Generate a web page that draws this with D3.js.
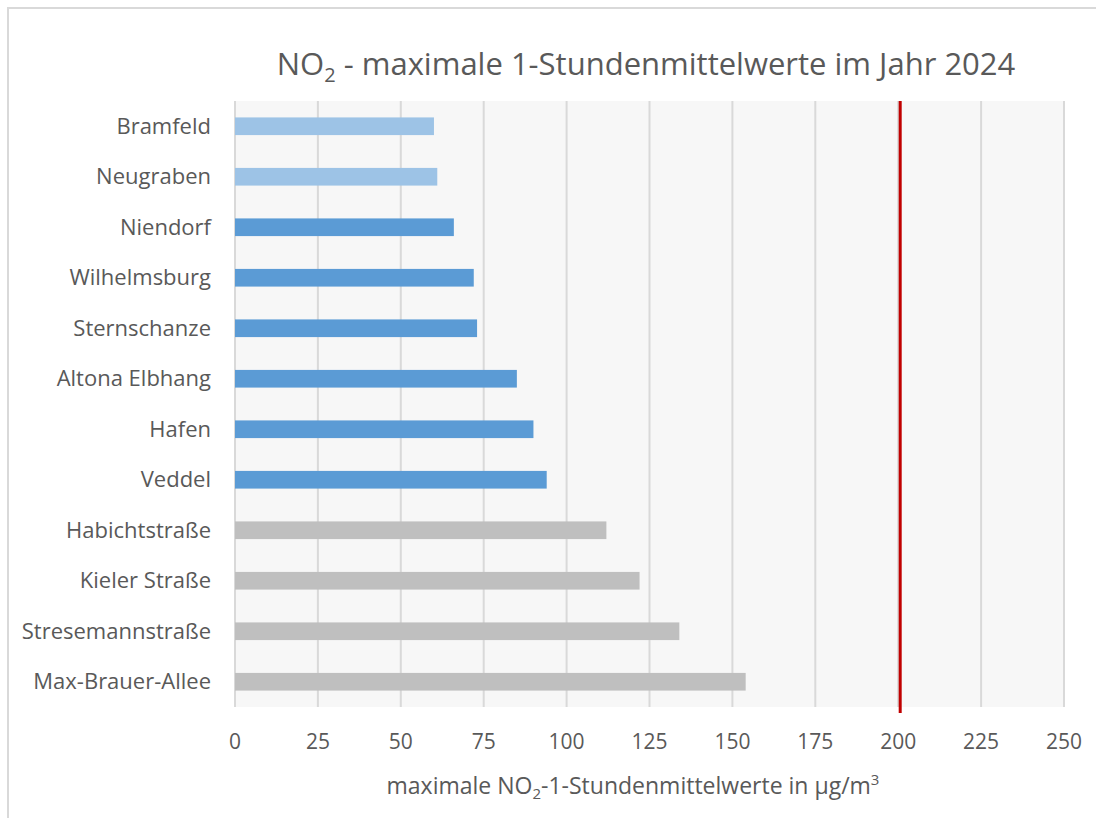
<!DOCTYPE html>
<html>
<head>
    <script src="https://d3js.org/d3.v7.min.js"></script>
    <style>
        body { margin: 0; background: #fff; }
        text { font-family: "Open Sans", sans-serif; fill: #595959; }
    </style>
</head>
<body>
    <script>
        // stations from top to bottom
        var stations = ["Bramfeld", "Neugraben", "Niendorf", "Wilhelmsburg", "Sternschanze",
            "Altona Elbhang", "Hafen", "Veddel", "Habichtstraße", "Kieler Straße",
            "Stresemannstraße", "Max-Brauer-Allee"];
        var maxValues = [60, 61, 66, 72, 73, 85, 90, 94, 112, 122, 134, 154];
        var stationType = ["hinter", "hinter", "stadt", "stadt", "stadt", "stadt", "stadt", "stadt",
            "verkehr", "verkehr", "verkehr", "verkehr"];
        var xTicks = [0, 25, 50, 75, 100, 125, 150, 175, 200, 225, 250];
        var limitValue = 200;

        var typeColor = { hinter: "#9dc3e6", stadt: "#5b9bd5", verkehr: "#bfbfbf" };

        var width = 1096, height = 818;
        var margin = { left: 235, right: 32, top: 101, bottom: 111 };

        var svg = d3.select("body").append("svg")
            .attr("width", width)
            .attr("height", height);

        // chart frame
        svg.append("rect")
            .attr("x", 8).attr("y", 8)
            .attr("width", width + 10).attr("height", height + 10)
            .attr("fill", "none")
            .attr("stroke", "#d9d9d9")
            .attr("stroke-width", 2);

        var x = d3.scaleLinear()
            .domain([0, 250])
            .range([margin.left, width - margin.right]);

        var y = d3.scaleBand()
            .domain(stations)
            .range([margin.top, height - margin.bottom])
            .paddingInner(0.65)
            .paddingOuter(0.325);

        // plot background
        svg.append("rect")
            .attr("x", x(0)).attr("y", margin.top)
            .attr("width", x(250) - x(0))
            .attr("height", height - margin.bottom - margin.top)
            .attr("fill", "#f7f7f7");

        // gridlines
        svg.append("g")
            .selectAll("line")
            .data(xTicks)
            .join("line")
            .attr("x1", function (d) { return x(d); })
            .attr("x2", function (d) { return x(d); })
            .attr("y1", margin.top)
            .attr("y2", height - margin.bottom)
            .attr("stroke", "#d9d9d9")
            .attr("stroke-width", 2);

        // bars
        svg.append("g")
            .selectAll("rect")
            .data(stations)
            .join("rect")
            .attr("x", x(0))
            .attr("y", function (d) { return y(d); })
            .attr("width", function (d, i) { return x(maxValues[i]) - x(0); })
            .attr("height", y.bandwidth())
            .attr("fill", function (d, i) { return typeColor[stationType[i]]; });

        // limit value line
        svg.append("line")
            .attr("x1", x(limitValue) + 2).attr("x2", x(limitValue) + 2)
            .attr("y1", margin.top)
            .attr("y2", height - margin.bottom + 6)
            .attr("stroke", "#c00000")
            .attr("stroke-width", 3);

        // category labels
        svg.append("g")
            .selectAll("text")
            .data(stations)
            .join("text")
            .attr("x", 211)
            .attr("y", function (d) { return y(d) + y.bandwidth() / 2; })
            .attr("dy", "0.35em")
            .attr("text-anchor", "end")
            .attr("font-size", 22)
            .text(function (d) { return d; });

        // x tick labels
        svg.append("g")
            .selectAll("text")
            .data(xTicks)
            .join("text")
            .attr("x", function (d) { return x(d); })
            .attr("y", 749)
            .attr("text-anchor", "middle")
            .attr("font-size", 21)
            .text(function (d) { return d; });

        // title
        var title = svg.append("text")
            .attr("x", 646)
            .attr("y", 75)
            .attr("text-anchor", "middle")
            .attr("font-size", 31);
        title.append("tspan").text("NO");
        title.append("tspan").attr("font-size", 20).attr("dy", 7).text("2");
        title.append("tspan").attr("dy", -7).text(" - maximale 1-Stundenmittelwerte im Jahr 2024");

        // axis title
        var xTitle = svg.append("text")
            .attr("x", 633)
            .attr("y", 794)
            .attr("text-anchor", "middle")
            .attr("font-size", 23);
        xTitle.append("tspan").text("maximale NO");
        xTitle.append("tspan").attr("font-size", 15).attr("dy", 5).text("2");
        xTitle.append("tspan").attr("dy", -5).text("-1-Stundenmittelwerte in µg/m");
        xTitle.append("tspan").attr("font-size", 15).attr("dy", -9).text("3");
    </script>
</body>
</html>
